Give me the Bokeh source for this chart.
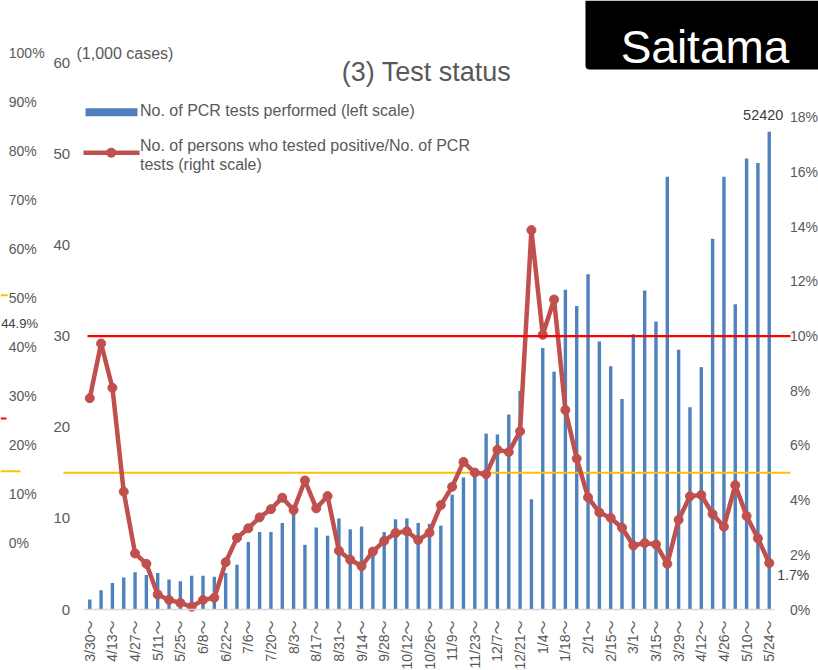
import math
from bokeh.plotting import figure
from bokeh.models import (Range1d, LinearAxis, FixedTicker, PrintfTickFormatter,
                          BoxAnnotation, Label)
from bokeh.embed import file_html
from bokeh.resources import INLINE

# ---------------- data ----------------
weeks = ["3/30", "4/6", "4/13", "4/20", "4/27", "5/4", "5/11", "5/18", "5/25", "6/1",
         "6/8", "6/15", "6/22", "6/29", "7/6", "7/13", "7/20", "7/27", "8/3", "8/10",
         "8/17", "8/24", "8/31", "9/7", "9/14", "9/21", "9/28", "10/5", "10/12", "10/19",
         "10/26", "11/2", "11/9", "11/16", "11/23", "11/30", "12/7", "12/14", "12/21", "12/28",
         "1/4", "1/11", "1/18", "1/25", "2/1", "2/8", "2/15", "2/22", "3/1", "3/8",
         "3/15", "3/22", "3/29", "4/5", "4/12", "4/19", "4/26", "5/3", "5/10", "5/17",
         "5/24"]

# No. of PCR tests performed (thousands, left scale)
tests_k = [1.1, 2.1, 2.9, 3.5, 4.1, 3.8, 4.0, 3.3, 3.1, 3.7,
           3.7, 3.6, 4.0, 4.9, 7.4, 8.5, 8.5, 9.5, 11.5, 7.1,
           9.0, 8.1, 10.0, 8.8, 9.1, 6.2, 8.5, 9.9, 10.0, 9.5,
           9.4, 9.2, 12.6, 14.5, 14.6, 19.3, 19.2, 21.4, 24.0, 12.1,
           28.7, 26.1, 35.1, 33.3, 36.8, 29.4, 26.7, 23.1, 30.2, 35.0,
           31.6, 47.5, 28.5, 22.2, 26.6, 40.7, 47.5, 33.5, 49.5, 49.0,
           52.42]

# Positive / PCR tests (%, right scale)
positive_pct = [7.73, 9.73, 8.11, 4.31, 2.05, 1.67, 0.55, 0.35, 0.24, 0.10,
                0.35, 0.43, 1.73, 2.62, 2.97, 3.37, 3.67, 4.09, 3.64, 4.72,
                3.70, 4.15, 2.15, 1.82, 1.59, 2.12, 2.51, 2.80, 2.86, 2.54,
                2.81, 3.82, 4.49, 5.40, 5.01, 4.95, 5.84, 5.76, 6.52, 13.88,
                10.05, 11.34, 7.30, 5.52, 4.10, 3.55, 3.35, 2.99, 2.34, 2.43,
                2.38, 1.67, 3.28, 4.14, 4.19, 3.49, 3.03, 4.55, 3.42, 2.60,
                1.70]

red_threshold_pct = 10
yellow_threshold_pct = 5
left_ticks = [0, 10, 20, 30, 40, 50, 60]
right_ticks = [0, 2, 4, 6, 8, 10, 12, 14, 16, 18]
left_max = 60
right_max = 20
other_chart_ticks = ["100%", "90%", "80%", "70%", "60%", "50%", "40%", "30%", "20%", "10%", "0%"]
other_chart_marker = "44.9%"

title_text = "(3) Test status"
unit_text = "(1,000 cases)"
region_text = "Saitama"
legend_bar = "No. of PCR tests performed (left scale)"
legend_line_1 = "No. of persons who tested positive/No. of PCR"
legend_line_2 = "tests (right scale)"

# ---------------- style / layout ----------------
FONT = "'Liberation Sans', Arial, 'Noto Sans CJK JP'"
GRAY = "#595959"
DARK = "#404040"
BLUE = "#4f81bd"
RED = "#c0504d"

W, H = 818, 670
PLOT_L, PLOT_R, PLOT_T, PLOT_B = 83.6, 774.4, 62.3, 609.0   # data area in pixels

n = len(weeks)
idx = list(range(n))
slot = (PLOT_R - PLOT_L) / n
x_start = -0.5 - PLOT_L / slot
x_end = n - 0.5 + (W - PLOT_R) / slot
ppu = (PLOT_B - PLOT_T) / left_max
y_start = -(H - PLOT_B) / ppu
y_end = left_max + PLOT_T / ppu
ratio = right_max / left_max


def px_to_x(px):
    return -0.5 + (px - PLOT_L) / slot


p = figure(width=W, height=H, output_backend="svg", toolbar_location=None, title=None,
           x_range=Range1d(x_start, x_end), y_range=Range1d(y_start, y_end),
           x_axis_location=None, y_axis_location=None,
           min_border_left=0, min_border_right=0, min_border_top=0, min_border_bottom=0)
p.extra_y_ranges = {"pct": Range1d(y_start * ratio, y_end * ratio)}
p.xgrid.visible = False
p.ygrid.visible = False
p.outline_line_color = None
p.background_fill_color = "white"
p.border_fill_color = "white"

tick_idx = idx[::2]
xaxis = LinearAxis(fixed_location=0, bounds=(-0.5, n - 0.5),
                   ticker=FixedTicker(ticks=tick_idx),
                   major_label_overrides={i: weeks[i] + "～" for i in tick_idx},
                   major_label_orientation=math.pi / 2,
                   major_label_standoff=11,
                   major_label_text_font_size="14px")
yaxis = LinearAxis(fixed_location=-0.5, ticker=FixedTicker(ticks=left_ticks),
                   major_label_standoff=14, major_label_text_font_size="15px")
raxis = LinearAxis(y_range_name="pct", fixed_location=n - 0.5,
                   ticker=FixedTicker(ticks=right_ticks),
                   formatter=PrintfTickFormatter(format="%d%%"),
                   major_label_standoff=15, major_label_text_font_size="14px")
for ax in (xaxis, yaxis, raxis):
    ax.major_tick_line_color = None
    ax.minor_tick_line_color = None
    ax.major_tick_out = 0
    ax.major_tick_in = 0
    ax.minor_tick_out = 0
    ax.minor_tick_in = 0
    ax.major_label_text_font = FONT
    ax.major_label_text_color = GRAY
xaxis.axis_line_color = "#d9d9d9"
xaxis.axis_line_width = 1.5
yaxis.axis_line_color = None
raxis.axis_line_color = None
p.add_layout(xaxis, "below")
p.add_layout(yaxis, "left")
p.add_layout(raxis, "right")

# bars, yellow threshold, line
p.vbar(x=idx, top=tests_k, width=0.3, fill_color=BLUE, line_color=None)
p.segment(x0=[px_to_x(63)], x1=[px_to_x(790)],
          y0=[yellow_threshold_pct], y1=[yellow_threshold_pct], y_range_name="pct",
          line_color="#ffc000", line_width=2)
p.line(x=idx, y=positive_pct, y_range_name="pct", line_color=RED, line_width=4.5,
       line_join="round")
p.scatter(x=idx, y=positive_pct, y_range_name="pct", size=9, fill_color=RED, line_color=RED)

# red threshold line on top
p.add_layout(BoxAnnotation(left=87, right=790, left_units="canvas", right_units="canvas",
                           bottom=red_threshold_pct - 0.04, top=red_threshold_pct + 0.04,
                           y_range_name="pct", fill_color="#ff0000", fill_alpha=1,
                           line_color=None, level="overlay"))

# value labels
p.add_layout(Label(x=idx[-1], y=tests_k[-1], text=str(int(round(tests_k[-1] * 1000))),
                   x_offset=-6, y_offset=12, text_align="center", text_baseline="bottom",
                   text_font=FONT, text_font_size="14.5px", text_color=DARK))
p.add_layout(Label(x=idx[-1], y=positive_pct[-1], y_range_name="pct",
                   text=f"{positive_pct[-1]:.1f}%", x_offset=8, y_offset=-12,
                   text_align="left", text_baseline="middle",
                   text_font=FONT, text_font_size="14px", text_color=DARK))


def canvas_label(x, y, text, size, color=GRAY, align="left", baseline="middle", level="annotation"):
    p.add_layout(Label(x=x, y=y, x_units="canvas", y_units="canvas", text=text,
                       text_align=align, text_baseline=baseline, text_font=FONT,
                       text_font_size=size, text_color=color, level=level))


def canvas_box(left, right, top, bottom, color, radius=0, level="annotation"):
    p.add_layout(BoxAnnotation(left=left, right=right, top=top, bottom=bottom,
                               left_units="canvas", right_units="canvas",
                               top_units="canvas", bottom_units="canvas",
                               border_radius=radius, fill_color=color, fill_alpha=1,
                               line_color=None, level=level))


# title, unit, region box
canvas_label(426, 71.7, title_text, "27px", align="center", baseline="alphabetic")
canvas_label(76, 52.7, unit_text, "16px")
canvas_box(585, W, 0, 69, "black", radius=(0, 0, 0, 4), level="overlay")
canvas_label(704.5, 46.7, region_text, "46px", color="white", align="center",
             baseline="alphabetic", level="overlay")

# legend
canvas_box(85, 137, 107.7, 115.7, BLUE)
canvas_box(83, 139, 150.1, 154.5, RED)
canvas_box(105.7, 115.7, 147.3, 157.3, RED, radius=5)
canvas_label(139.5, 110, legend_bar, "16px")
canvas_label(139.5, 145, legend_line_1, "16px")
canvas_label(139.5, 164.3, legend_line_2, "16px")

# clipped neighbour chart axis on the far left
for k, t in enumerate(other_chart_ticks):
    canvas_label(8.3, 52.7 + k * 48.96, t, "14px")
canvas_label(37.5, 322.7, other_chart_marker, "13px", color=DARK, align="right")
canvas_box(0, 7.3, 293.7, 295.7, "#ffc000")
canvas_box(0, 6, 417, 419, "#ff0000")
canvas_box(0, 20, 469.7, 471.7, "#ffc000")

open("out.html", "w").write(file_html(p, INLINE))
